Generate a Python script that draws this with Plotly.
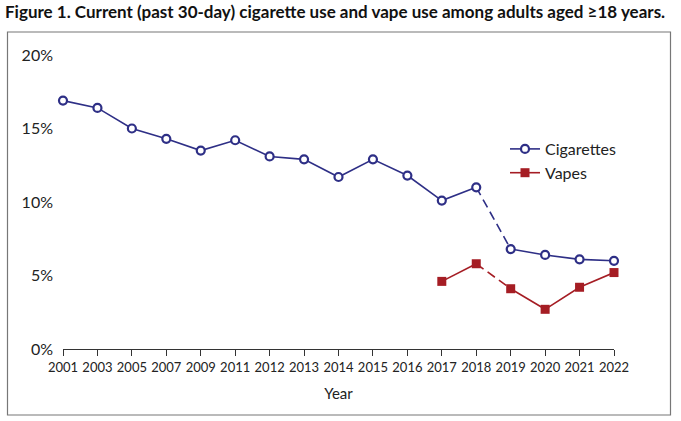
import plotly.graph_objects as go

years = ["2001", "2003", "2005", "2007", "2009", "2011", "2012", "2013", "2014",
         "2015", "2016", "2017", "2018", "2019", "2020", "2021", "2022"]
cigarettes = [16.9, 16.4, 15.0, 14.3, 13.5, 14.2, 13.1, 12.9, 11.7,
              12.9, 11.8, 10.1, 11.0, 6.8, 6.4, 6.1, 6.0]
vape_years = ["2017", "2018", "2019", "2020", "2021", "2022"]
vapes = [4.6, 5.8, 4.1, 2.7, 4.2, 5.2]
y_ticks = [0, 5, 10, 15, 20]
y_tick_labels = ["0%", "5%", "10%", "15%", "20%"]
break_year = "2018"  # survey change: dashed segment 2018 -> 2019

NAVY = "#2e2f86"
RED = "#a51d24"
FONT = "Lato"

ci = years.index(break_year)
vi = vape_years.index(break_year)

fig = go.Figure()

# dashed segments
fig.add_trace(go.Scatter(x=years[ci:ci + 2], y=cigarettes[ci:ci + 2], mode="lines",
                         line=dict(color=NAVY, width=1.6, dash="9px,5px"),
                         showlegend=False, hoverinfo="skip", cliponaxis=False))
fig.add_trace(go.Scatter(x=vape_years[vi:vi + 2], y=vapes[vi:vi + 2], mode="lines",
                         line=dict(color=RED, width=1.6, dash="9px,5px"),
                         showlegend=False, hoverinfo="skip", cliponaxis=False))

cig_marker = dict(symbol="circle", size=8, color="white", line=dict(color=NAVY, width=2.2))
vape_marker = dict(symbol="square", size=9, color=RED, line=dict(color=RED, width=0))

fig.add_trace(go.Scatter(x=years[:ci + 1], y=cigarettes[:ci + 1], mode="lines+markers",
                         name="Cigarettes", line=dict(color=NAVY, width=1.6),
                         marker=cig_marker, cliponaxis=False, legendgroup="c"))
fig.add_trace(go.Scatter(x=years[ci + 1:], y=cigarettes[ci + 1:], mode="lines+markers",
                         name="Cigarettes", line=dict(color=NAVY, width=1.6),
                         marker=cig_marker, cliponaxis=False, legendgroup="c",
                         showlegend=False))
fig.add_trace(go.Scatter(x=vape_years[:vi + 1], y=vapes[:vi + 1], mode="lines+markers",
                         name="Vapes", line=dict(color=RED, width=1.6),
                         marker=vape_marker, cliponaxis=False, legendgroup="v"))
fig.add_trace(go.Scatter(x=vape_years[vi + 1:], y=vapes[vi + 1:], mode="lines+markers",
                         name="Vapes", line=dict(color=RED, width=1.6),
                         marker=vape_marker, cliponaxis=False, legendgroup="v",
                         showlegend=False))

W, H = 681, 421
L, R, T, B = 63, 67, 55, 72
pw, ph = W - L - R, H - T - B

def px_x(x):
    return (x - L) / pw

def px_y(y):
    return (H - B - y) / ph

fig.add_annotation(x=years[-1], y=cigarettes[-1], text=f"{cigarettes[-1]:.1f}%",
                   showarrow=False, xshift=15, yshift=19,
                   font=dict(family=FONT, size=16, color="#222"))
fig.add_annotation(x=vape_years[-1], y=vapes[-1], text=f"{vapes[-1]:.1f}%",
                   showarrow=False, xshift=15, yshift=-23,
                   font=dict(family=FONT, size=16, color="#222"))

fig.add_annotation(xref="paper", yref="paper", x=px_x(3), y=px_y(12),
                   xanchor="left", yanchor="middle", showarrow=False,
                   text="<b>Figure 1. Current (past 30-day) cigarette use and vape use among adults aged ≥18 years.</b>",
                   font=dict(family=FONT, size=17, color="#111"))

fig.add_shape(type="rect", xref="paper", yref="paper",
              x0=px_x(7.5), x1=px_x(670.5), y0=px_y(415), y1=px_y(32),
              line=dict(color="#777", width=1.2), fillcolor="rgba(0,0,0,0)", layer="below")

fig.update_layout(
    width=W, height=H,
    margin=dict(l=L, r=R, t=T, b=B),
    paper_bgcolor="white", plot_bgcolor="rgba(0,0,0,0)",
    font=dict(family=FONT, size=14, color="#222"),
    legend=dict(x=px_x(505), y=px_y(132), xanchor="left", yanchor="top",
                font=dict(family=FONT, size=16, color="#222"),
                bgcolor="rgba(0,0,0,0)", itemwidth=30, tracegroupgap=0),
    xaxis=dict(type="category", categoryorder="array", categoryarray=years,
               range=[0, len(years) - 1], showgrid=False, zeroline=False,
               showline=True, linecolor="#333", linewidth=1,
               ticks="outside", ticklen=6, tickcolor="#333", tickwidth=1,
               tickfont=dict(family=FONT, size=13, color="#222"),
               title=dict(text="Year", font=dict(family=FONT, size=15, color="#222"), standoff=14)),
    yaxis=dict(range=[0, 20], tickmode="array", tickvals=y_ticks, ticktext=y_tick_labels,
               showgrid=False, zeroline=False, showline=False, ticks="",
               ticklabelstandoff=9,
               tickfont=dict(family=FONT, size=16, color="#222")),
)

# remove the browser's default 8px body margin so the figure fills the window
fig.write_html("out.html", config={"displayModeBar": False},
               post_script="document.body.style.margin='0';")
